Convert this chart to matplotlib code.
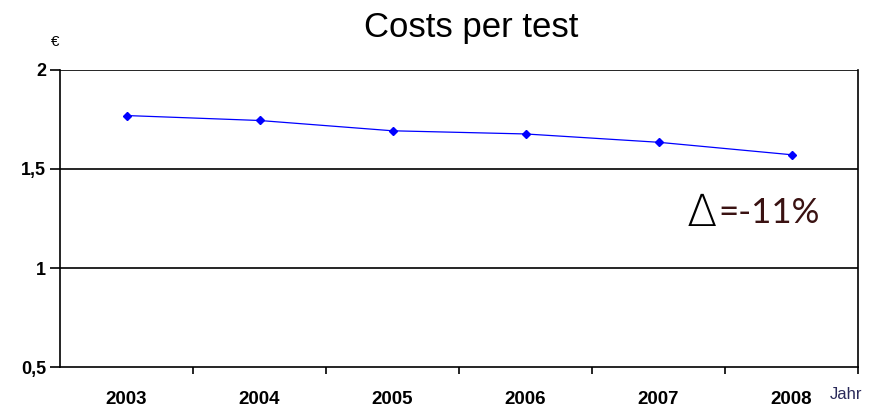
import matplotlib.pyplot as plt

years = ['2003', '2004', '2005', '2006', '2007', '2008']
cost = [1.77, 1.745, 1.693, 1.677, 1.635, 1.572]
y_ticks = [0.5, 1, 1.5, 2]
y_labels = ['0,5', '1', '1,5', '2']

plt.rcParams['font.family'] = ['Liberation Sans', 'DejaVu Sans']

fig = plt.figure(figsize=(8.75, 4.11), dpi=100)
ax = fig.add_axes([60 / 875, 1 - 367 / 411, 798 / 875, 297 / 411])

x = list(range(len(years)))
ax.plot(x, cost, color='#0000ff', lw=0.9, marker='D', ms=4.5,
        markerfacecolor='#0000ff', markeredgecolor='#0000ff')

ax.set_xlim(-0.5, len(years) - 0.5)
ax.set_ylim(0.5, 2)
ax.set_yticks(y_ticks)
ax.set_yticklabels(y_labels, fontsize=13, fontweight='bold')
for v in [1, 1.5, 2]:
    ax.axhline(v, color='black', lw=1.2)

ax.set_xticks(x)
ax.set_xticklabels(years, fontsize=13.5, fontweight='bold')
ax.tick_params(axis='x', length=0, pad=17)
ax.set_xticks([i + 0.5 for i in x], minor=True)
ax.tick_params(axis='x', which='minor', length=5, width=1.2, direction='out')
ax.tick_params(axis='y', length=7, width=1.2, direction='out', pad=3)

for s in ax.spines.values():
    s.set_linewidth(1.2)
ax.spines['top'].set_visible(False)

fig.text(471 / 875, 1 - 27 / 411, 'Costs per test', ha='center', va='center',
         fontsize=25)
fig.text(55 / 875, 1 - 42 / 411, '€', ha='center', va='center', fontsize=11)
fig.text(830 / 875, 1 - 394 / 411, 'Jahr', ha='left', va='center',
         fontsize=12, color='#2a2a5a')

ax.text(4.21, 1.275, '∆', ha='left', va='center', fontsize=32,
        family=['DejaVu Sans'], fontweight=200, color='black')
ax.text(4.45, 1.28, '=-11%', ha='left', va='center', fontsize=25,
        family='Lato', color='#3a1212')

fig.savefig('out.png', dpi=100)
